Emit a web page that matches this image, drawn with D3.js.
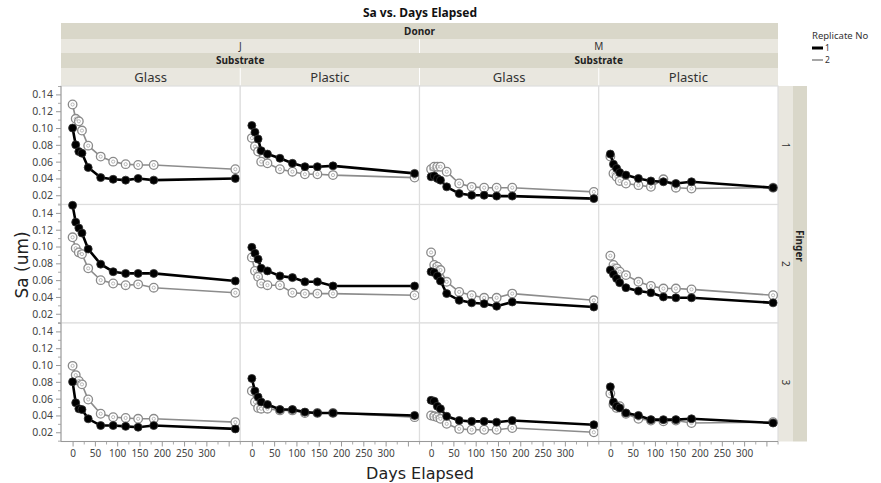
<!DOCTYPE html>
<html><head><meta charset="utf-8">
<script src="https://cdn.jsdelivr.net/npm/d3@7"></script>
<style>
body{margin:0;background:#fff}
text{font-family:"Noto Sans",sans-serif}
</style></head>
<body><svg id="c" width="881" height="483"></svg>
<script>
// ---------------- data ----------------
const days = [0, 7, 14, 21, 35, 63, 91, 119, 147, 182, 365];
const donors = ["J", "M"];
const substrates = ["Glass", "Plastic"];
const fingers = ["1", "2", "3"];
const replicates = ["1", "2"];
const xTicks = [0, 50, 100, 150, 200, 250, 300, 350];
const xTickLabels = ["0", "50", "100", "150", "200", "250", "300", ""];
const yTicks = [0.02, 0.04, 0.06, 0.08, 0.10, 0.12, 0.14];

// each array: [finger1, finger2, finger3]
const J_Glass_rep1 = [
  [0.100, 0.080, 0.072, 0.070, 0.053, 0.041, 0.039, 0.038, 0.040, 0.038, 0.040],
  [0.149, 0.129, 0.122, 0.116, 0.097, 0.079, 0.070, 0.068, 0.068, 0.068, 0.059],
  [0.080, 0.055, 0.048, 0.047, 0.036, 0.028, 0.028, 0.027, 0.026, 0.028, 0.024]
];
const J_Glass_rep2 = [
  [0.128, 0.111, 0.108, 0.097, 0.079, 0.066, 0.060, 0.057, 0.056, 0.056, 0.051],
  [0.111, 0.098, 0.093, 0.091, 0.074, 0.060, 0.056, 0.054, 0.055, 0.051, 0.045],
  [0.099, 0.088, 0.081, 0.077, 0.059, 0.042, 0.038, 0.037, 0.036, 0.036, 0.032]
];
const J_Plastic_rep1 = [
  [0.103, 0.095, 0.087, 0.073, 0.069, 0.064, 0.058, 0.054, 0.054, 0.055, 0.046],
  [0.099, 0.092, 0.085, 0.074, 0.071, 0.065, 0.063, 0.058, 0.058, 0.053, 0.053],
  [0.084, 0.069, 0.062, 0.056, 0.053, 0.047, 0.047, 0.044, 0.043, 0.043, 0.040]
];
const J_Plastic_rep2 = [
  [0.088, 0.078, 0.072, 0.060, 0.058, 0.051, 0.048, 0.045, 0.045, 0.044, 0.041],
  [0.087, 0.071, 0.064, 0.056, 0.054, 0.054, 0.045, 0.044, 0.044, 0.044, 0.042],
  [0.069, 0.056, 0.049, 0.048, 0.048, 0.046, 0.046, 0.043, 0.043, 0.043, 0.038]
];
const M_Glass_rep1 = [
  [0.042, 0.043, 0.040, 0.038, 0.030, 0.022, 0.020, 0.020, 0.019, 0.019, 0.016],
  [0.070, 0.069, 0.065, 0.059, 0.044, 0.036, 0.033, 0.032, 0.029, 0.034, 0.028],
  [0.058, 0.057, 0.051, 0.048, 0.039, 0.034, 0.033, 0.033, 0.032, 0.034, 0.029]
];
const M_Glass_rep2 = [
  [0.051, 0.054, 0.054, 0.054, 0.048, 0.034, 0.030, 0.029, 0.029, 0.029, 0.024],
  [0.093, 0.078, 0.076, 0.072, 0.058, 0.046, 0.042, 0.039, 0.039, 0.044, 0.036],
  [0.040, 0.039, 0.038, 0.036, 0.030, 0.024, 0.023, 0.023, 0.023, 0.025, 0.020]
];
const M_Plastic_rep1 = [
  [0.069, 0.057, 0.052, 0.047, 0.044, 0.040, 0.037, 0.036, 0.034, 0.036, 0.029],
  [0.072, 0.067, 0.062, 0.057, 0.051, 0.047, 0.045, 0.040, 0.039, 0.039, 0.033],
  [0.074, 0.056, 0.051, 0.049, 0.043, 0.040, 0.035, 0.035, 0.035, 0.036, 0.031]
];
const M_Plastic_rep2 = [
  [0.066, 0.046, 0.042, 0.037, 0.034, 0.032, 0.030, 0.039, 0.029, 0.028, 0.029],
  [0.089, 0.078, 0.074, 0.070, 0.066, 0.058, 0.053, 0.050, 0.050, 0.049, 0.042],
  [0.066, 0.053, 0.049, 0.051, 0.042, 0.036, 0.034, 0.033, 0.034, 0.031, 0.032]
];
const seriesByPanel = {
  "J|Glass": [J_Glass_rep1, J_Glass_rep2],
  "J|Plastic": [J_Plastic_rep1, J_Plastic_rep2],
  "M|Glass": [M_Glass_rep1, M_Glass_rep2],
  "M|Plastic": [M_Plastic_rep1, M_Plastic_rep2]
};

// ---------------- layout ----------------
const svg = d3.select("#c");
const plotL = 61, plotR = 778, plotT = 86, rowH = 118.5;
const nCols = 4;
const colW = (plotR - plotL) / nCols;
const plotB = plotT + rowH * 3;
const darkBand = "#d9d7c9", lightBand = "#e9e7df";
const cols = [];
donors.forEach(d => substrates.forEach(s => cols.push({donor: d, sub: s})));

const x = d3.scaleLinear().domain([-26, 376]).range([0, colW]);
const y = d3.scaleLinear().domain([0.009, 0.15]).range([rowH, 0]);

// title
svg.append("text").attr("x", 420).attr("y", 17).attr("text-anchor", "middle")
  .attr("font-size", 12).attr("font-weight", "bold").attr("fill", "#111")
  .text("Sa vs. Days Elapsed");

// header bands
const hdr = [
  {y0: 23, y1: 39, fill: darkBand},
  {y0: 39, y1: 53, fill: lightBand},
  {y0: 53, y1: 68, fill: darkBand},
  {y0: 68, y1: 86, fill: lightBand}
];
hdr.forEach(h => svg.append("rect").attr("x", plotL).attr("y", h.y0)
  .attr("width", plotR - plotL).attr("height", h.y1 - h.y0).attr("fill", h.fill));
svg.append("text").attr("x", (plotL + plotR) / 2).attr("y", 35).attr("text-anchor", "middle")
  .attr("font-size", 10).attr("font-weight", "bold").attr("fill", "#222").text("Donor");
donors.forEach((d, i) => {
  const cx = plotL + colW * (2 * i + 1);
  svg.append("text").attr("x", cx).attr("y", 50).attr("text-anchor", "middle")
    .attr("font-size", 10).attr("fill", "#333").text(d);
  svg.append("text").attr("x", cx).attr("y", 64).attr("text-anchor", "middle")
    .attr("font-size", 10).attr("font-weight", "bold").attr("fill", "#222").text("Substrate");
});
svg.append("line").attr("x1", plotL + 2 * colW).attr("x2", plotL + 2 * colW)
  .attr("y1", 39).attr("y2", 53).attr("stroke", "#fff").attr("stroke-width", 1);
cols.forEach((c, i) => {
  svg.append("text").attr("x", plotL + colW * (i + 0.5)).attr("y", 82).attr("text-anchor", "middle")
    .attr("font-size", 13).attr("fill", "#333").text(c.sub);
  if (i > 0) svg.append("line").attr("x1", plotL + colW * i).attr("x2", plotL + colW * i)
    .attr("y1", 68).attr("y2", 86).attr("stroke", "#fff").attr("stroke-width", 1);
});

// right strips
svg.append("rect").attr("x", plotR).attr("y", plotT).attr("width", 15).attr("height", plotB - plotT).attr("fill", lightBand);
svg.append("rect").attr("x", plotR + 15).attr("y", plotT).attr("width", 14).attr("height", plotB - plotT).attr("fill", darkBand);
fingers.forEach((f, r) => {
  const cy = plotT + rowH * (r + 0.5);
  svg.append("text").attr("transform", `translate(${plotR + 4},${cy}) rotate(90)`)
    .attr("text-anchor", "middle").attr("font-size", 10).attr("fill", "#333").text(f);
});
svg.append("text").attr("transform", `translate(${plotR + 18},${plotT + rowH * 1.35}) rotate(90)`)
  .attr("text-anchor", "middle").attr("font-size", 10).attr("font-weight", "bold").attr("fill", "#222").text("Finger");

// legend
svg.append("text").attr("x", 812).attr("y", 39).attr("font-size", 9.5).attr("fill", "#333").text("Replicate No");
svg.append("line").attr("x1", 812).attr("x2", 823).attr("y1", 48).attr("y2", 48).attr("stroke", "#000").attr("stroke-width", 3);
svg.append("text").attr("x", 825).attr("y", 51).attr("font-size", 8.5).attr("fill", "#333").text(replicates[0]);
svg.append("line").attr("x1", 812).attr("x2", 823).attr("y1", 60).attr("y2", 60).attr("stroke", "#888").attr("stroke-width", 1.5);
svg.append("text").attr("x", 825).attr("y", 63).attr("font-size", 8.5).attr("fill", "#333").text(replicates[1]);

// panels
const line = d3.line().x((d, i) => x(days[i])).y(d => y(d));
fingers.forEach((f, r) => {
  cols.forEach((c, ci) => {
    const g = svg.append("g").attr("transform", `translate(${plotL + ci * colW},${plotT + r * rowH})`);
    g.append("rect").attr("width", colW).attr("height", rowH).attr("fill", "#fff")
      .attr("stroke", "#dedede").attr("stroke-width", 1.2);
    const [rep1, rep2] = seriesByPanel[c.donor + "|" + c.sub];
    // replicate 2 (grey, open circles)
    g.append("path").attr("d", line(rep2[r])).attr("fill", "none").attr("stroke", "#8c8c8c").attr("stroke-width", 1.6);
    g.selectAll(".p2").data(rep2[r]).join("circle").attr("cx", (d, i) => x(days[i])).attr("cy", d => y(d))
      .attr("r", 4.3).attr("fill", "#fff").attr("stroke", "#8a8a8a").attr("stroke-width", 1.3);
    g.selectAll(".p2c").data(rep2[r]).join("circle").attr("cx", (d, i) => x(days[i])).attr("cy", d => y(d))
      .attr("r", 1.6).attr("fill", "none").attr("stroke", "#aaa").attr("stroke-width", 0.8);
    // replicate 1 (black, filled)
    g.append("path").attr("d", line(rep1[r])).attr("fill", "none").attr("stroke", "#000").attr("stroke-width", 2.6);
    g.selectAll(".p1").data(rep1[r]).join("circle").attr("cx", (d, i) => x(days[i])).attr("cy", d => y(d))
      .attr("r", 4).attr("fill", "#000").attr("stroke", "#333").attr("stroke-width", 0.8);
  });
  // y axis for the row
  const ga = svg.append("g").attr("transform", `translate(${plotL},${plotT + r * rowH})`);
  ga.call(d3.axisLeft(y).tickValues(yTicks).tickFormat(d3.format(".2f")).tickSize(5))
    .call(a => a.select(".domain").remove())
    .call(a => a.selectAll("line").attr("stroke", "#999"))
    .call(a => a.selectAll("text").attr("font-size", 10.5).attr("fill", "#444"));
  ga.append("g").call(d3.axisLeft(y).tickValues([0.01, 0.03, 0.05, 0.07, 0.09, 0.11, 0.13, 0.15]).tickFormat("").tickSize(3))
    .call(a => a.select(".domain").remove())
    .call(a => a.selectAll("line").attr("stroke", "#aaa"));
});
svg.append("line").attr("x1", plotL).attr("x2", plotL).attr("y1", plotT).attr("y2", plotB).attr("stroke", "#999");

// x axes
cols.forEach((c, ci) => {
  const ga = svg.append("g").attr("transform", `translate(${plotL + ci * colW},${plotB})`);
  ga.call(d3.axisBottom(x).tickValues(xTicks).tickFormat((d, i) => xTickLabels[i]).tickSize(5))
    .call(a => a.select(".domain").remove())
    .call(a => a.selectAll("line").attr("stroke", "#999"))
    .call(a => a.selectAll("text").attr("font-size", 10).attr("fill", "#444").attr("dy", "0.75em"));
  ga.append("g").call(d3.axisBottom(x).tickValues([25, 75, 125, 175, 225, 275, 325, 375]).tickFormat("").tickSize(3))
    .call(a => a.select(".domain").remove())
    .call(a => a.selectAll("line").attr("stroke", "#aaa"));
});
svg.append("line").attr("x1", plotL).attr("x2", plotR).attr("y1", plotB).attr("y2", plotB).attr("stroke", "#999");

// axis titles
svg.append("text").attr("transform", `translate(28,265) rotate(-90)`).attr("text-anchor", "middle")
  .attr("font-size", 17).style("font-family", "'DejaVu Sans'").attr("fill", "#222").text("Sa (um)");
svg.append("text").attr("x", 420).attr("y", 479).attr("text-anchor", "middle")
  .attr("font-size", 16).style("font-family", "'DejaVu Sans'").attr("fill", "#222").text("Days Elapsed");
</script></body></html>
